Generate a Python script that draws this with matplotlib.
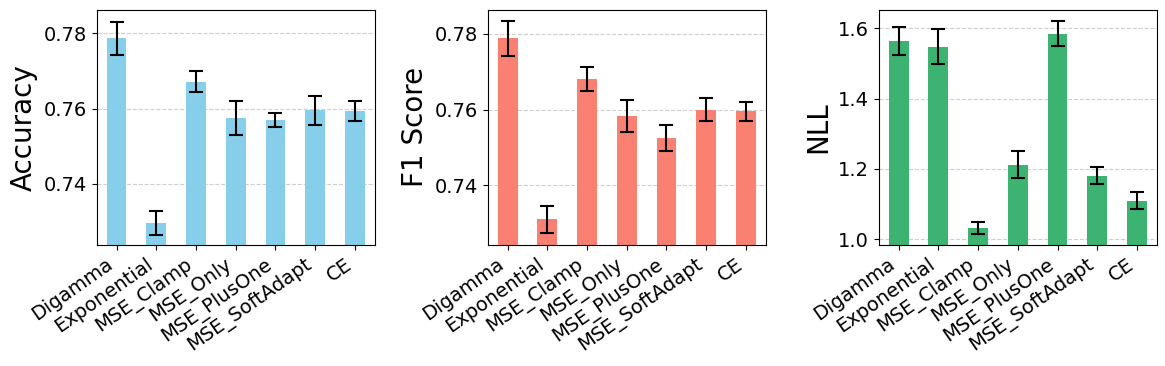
import numpy as np
import matplotlib.pyplot as plt

methods = ['Digamma', 'Exponential', 'MSE_Clamp', 'MSE_Only', 'MSE_PlusOne', 'MSE_SoftAdapt', 'CE']

acc_mean = [0.7787, 0.7296, 0.7671, 0.7574, 0.7569, 0.7595, 0.7593]
acc_std = [0.0044, 0.0032, 0.0028, 0.0045, 0.0018, 0.0039, 0.0026]

f1_mean = [0.7788, 0.7310, 0.7681, 0.7583, 0.7525, 0.7600, 0.7595]
f1_std = [0.0046, 0.0035, 0.0032, 0.0041, 0.0034, 0.0031, 0.0025]

nll_mean = [1.564, 1.547, 1.031, 1.212, 1.584, 1.181, 1.110]
nll_std = [0.039, 0.050, 0.017, 0.038, 0.036, 0.023, 0.023]

panels = [
    ('Accuracy', acc_mean, acc_std, 'skyblue', (0.7238, 0.7862)),
    ('F1 Score', f1_mean, f1_std, 'salmon', (0.7243, 0.7863)),
    ('NLL', nll_mean, nll_std, 'mediumseagreen', (0.984, 1.652)),
]

fig, axes = plt.subplots(1, 3, figsize=(11.65, 3.66), dpi=100)
fig.subplots_adjust(left=0.083, right=0.993, top=0.973, bottom=0.331, wspace=0.406)

x = np.arange(len(methods))
for ax, (name, mean, std, color, ylim) in zip(axes, panels):
    ax.bar(x, mean, width=0.5, color=color, yerr=std, capsize=5,
           error_kw={'ecolor': 'black', 'elinewidth': 1.5, 'capthick': 1.5})
    ax.set_xticks(x)
    ax.set_xticklabels(methods, rotation=35, ha='right', fontsize=14)
    ax.tick_params(axis='y', labelsize=14)
    ax.set_ylabel(name, fontsize=20)
    ax.set_ylim(*ylim)
    ax.set_xlim(-0.5, len(methods) - 0.5)
    ax.grid(axis='y', linestyle='--', alpha=0.6)
    ax.set_axisbelow(True)

plt.savefig('out.png')
